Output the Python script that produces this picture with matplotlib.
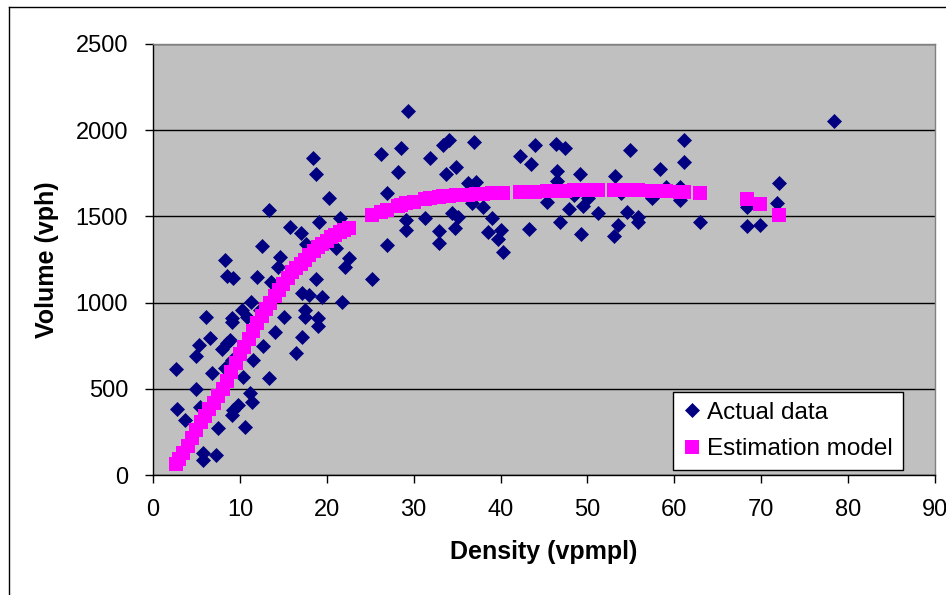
import matplotlib
matplotlib.use('Agg')
import matplotlib.pyplot as plt
from matplotlib.lines import Line2D

plt.rcParams['font.family'] = ['Liberation Sans', 'DejaVu Sans']

# Actual data (density vpmpl, volume vph)
actual_density = [2.6, 2.8, 3.7, 4.9, 5.0, 5.3, 5.4, 5.8, 5.8, 6.1, 6.6, 6.75, 7.25, 7.5,
                  7.9, 8.3, 8.3, 8.5, 8.5, 8.85, 9.1, 9.05, 9.05, 9.05, 9.2, 9.2, 9.75,
                  10.2, 10.4, 10.6, 10.8, 11.2, 11.3, 11.35, 11.5, 12.0, 12.3, 12.5, 12.7,
                  13.3, 13.3, 13.6, 14.0, 14.4, 14.6, 15.1, 15.8, 16.5, 17.0, 17.1, 17.1,
                  17.5, 17.5, 17.6, 17.9, 18.4, 18.8, 18.8, 18.95, 19.0, 19.1, 19.5, 20.3,
                  21.1, 21.5, 21.7, 22.1, 22.5, 25.2, 26.2, 26.9, 26.9, 28.2, 28.5, 29.1,
                  29.1, 29.3, 31.3, 31.9, 32.9, 32.9, 33.4, 33.7, 34.1, 34.4, 34.8, 34.9,
                  35.1, 36.3, 36.7, 37.0, 37.2, 38.0, 38.5, 39.0, 39.7, 40.1, 40.3, 42.2,
                  43.3, 43.5, 44.0, 45.3, 46.4, 46.5, 46.5, 46.8, 47.4, 47.9, 48.4, 49.1,
                  49.3, 49.5, 50.1, 51.2, 53.0, 53.2, 53.5, 53.9, 54.5, 54.9, 55.8, 55.8,
                  57.4, 58.3, 59.0, 60.6, 60.6, 61.1, 61.1, 62.9, 68.4, 68.4, 69.9, 71.8,
                  72.0, 78.4]
actual_volume = [615, 385, 319, 692, 499, 754, 396, 126, 87, 915, 793, 590, 115, 271,
                 729, 1247, 619, 1154, 764, 783, 348, 909, 889, 667, 1141, 377, 406,
                 957, 570, 280, 918, 474, 1005, 425, 667, 1147, 957, 1330, 750,
                 1537, 561, 1121, 832, 1205, 1263, 918, 1436, 710, 1405, 1054, 802,
                 957, 918, 1338, 1044, 1840, 1748, 1135, 864, 909, 1469, 1034, 1608,
                 1315, 1489, 1005, 1205, 1261, 1135, 1860, 1637, 1334, 1759, 1895, 1479,
                 1421, 2111, 1489, 1840, 1417, 1347, 1914, 1746, 1943, 1518, 1431, 1785,
                 1499, 1692, 1576, 1929, 1701, 1557, 1411, 1489, 1367, 1421, 1292, 1850,
                 1425, 1804, 1914, 1585, 1918, 1763, 1707, 1469, 1895, 1541, 1624, 1744,
                 1396, 1560, 1605, 1518, 1388, 1734, 1450, 1634, 1527, 1885, 1495, 1469,
                 1605, 1775, 1672, 1672, 1595, 1943, 1814, 1469, 1557, 1444, 1450, 1576,
                 1692, 2053]

# Estimation model
model_density = [2.6, 3.0, 3.5, 4.0, 4.5, 5.0, 5.5, 6.0, 6.5, 7.0, 7.5, 8.0, 8.5, 9.0,
                 9.5, 10.0, 10.5, 11.0, 11.5, 12.0, 12.5, 13.0, 13.5, 14.0, 14.5, 15.0,
                 15.5, 16.0, 16.5, 17.0, 17.5, 18.0, 18.5, 19.0, 19.5, 20.0, 20.5, 21.0,
                 21.5, 22.0, 22.5, 25.2, 26.2, 26.9, 28.2, 28.5, 29.1, 30.0, 31.3, 31.9,
                 32.9, 33.4, 34.1, 34.9, 35.5, 36.3, 37.2, 38.0, 39.0, 40.3, 42.2, 43.3,
                 44.0, 45.3, 46.5, 47.4, 48.4, 49.5, 50.1, 51.2, 53.0, 53.9, 54.9, 55.8,
                 57.4, 58.3, 59.0, 60.6, 61.1, 62.9, 68.4, 69.9, 72.0]
model_volume = [65, 90, 125, 170, 215, 260, 305, 345, 385, 420, 460, 500, 545, 600,
                650, 700, 745, 790, 835, 880, 920, 960, 1000, 1040, 1075, 1110,
                1145, 1175, 1200, 1225, 1250, 1275, 1297, 1320, 1340, 1360, 1378, 1395,
                1410, 1423, 1435, 1506, 1525, 1537, 1562, 1566, 1575, 1585, 1600, 1607,
                1614, 1617, 1620, 1623, 1625, 1627, 1629, 1631, 1633, 1635, 1640, 1642,
                1644, 1646, 1648, 1650, 1651, 1652, 1653, 1653, 1653, 1653, 1652, 1651,
                1650, 1648, 1647, 1644, 1643, 1637, 1599, 1572, 1508]

x_ticks = [0, 10, 20, 30, 40, 50, 60, 70, 80, 90]
y_ticks = [0, 500, 1000, 1500, 2000, 2500]

W, H = 946, 595
fig = plt.figure(figsize=(W / 100, H / 100), dpi=100)
fig.patch.set_facecolor('white')

# outer chart border (only top and left are visible in the crop)
fig.add_artist(Line2D([8.5 / W, 8.5 / W], [0, 1 - 6.5 / H], transform=fig.transFigure,
                      color='black', lw=1))
fig.add_artist(Line2D([8.5 / W, 1], [1 - 6.5 / H, 1 - 6.5 / H], transform=fig.transFigure,
                      color='black', lw=1))

ax = fig.add_axes([153 / W, (H - 475) / H, 782 / W, 431 / H])
ax.set_facecolor('#C0C0C0')

ax.plot(actual_density, actual_volume, linestyle='none', marker='D', markersize=7,
        color='#000080', mec='#000080', mew=0.5, label='Actual data', clip_on=False)
ax.plot(model_density, model_volume, linestyle='none', marker='s', markersize=10,
        color='#FF00FF', mec='#FF00FF', mew=0, label='Estimation model')

ax.set_xlim(0, 90)
ax.set_ylim(0, 2500)
ax.set_xticks(x_ticks)
ax.set_yticks(y_ticks)
ax.yaxis.grid(True, color='black', linewidth=1)
ax.set_axisbelow(True)

for side in ['left', 'bottom']:
    ax.spines[side].set_color('black')
    ax.spines[side].set_linewidth(1)
for side in ['top', 'right']:
    ax.spines[side].set_color('#808080')
    ax.spines[side].set_linewidth(1)

ax.tick_params(axis='x', direction='out', length=6, width=1, pad=11, labelsize=17)
ax.tick_params(axis='y', direction='out', length=6, width=1, pad=12, labelsize=17)

ax.set_xlabel('Density (vpmpl)', fontsize=18, fontweight='bold', labelpad=14)
ax.set_ylabel('Volume (vph)', fontsize=18, fontweight='bold', labelpad=12)

leg = ax.legend(loc='upper left', bbox_to_anchor=(0.665, 0.1926), borderaxespad=0,
                fontsize=17.5, frameon=True, fancybox=False, framealpha=1,
                edgecolor='black', handlelength=0.8, handletextpad=0.2,
                labelspacing=0.6, borderpad=0.4, markerscale=0.95)
leg.get_frame().set_linewidth(1)

fig.savefig('out.png', dpi=100)
